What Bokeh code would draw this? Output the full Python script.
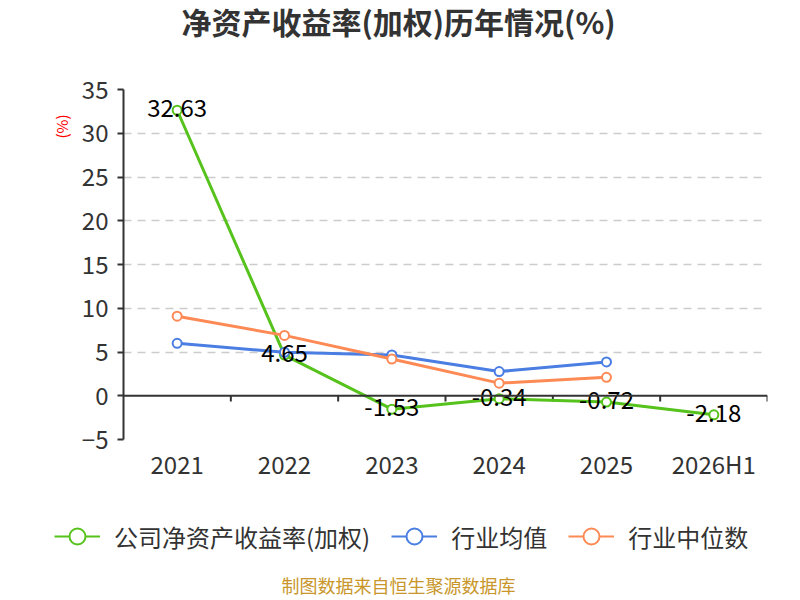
from bokeh.plotting import figure
from bokeh.models import (Legend, LegendItem, FixedTicker, Span, Title, Label,
                          ColumnDataSource, CustomJSTickFormatter)
from bokeh.layouts import column
from bokeh.core.properties import value
from bokeh.embed import file_html
from bokeh.resources import INLINE

years = ["2021", "2022", "2023", "2024", "2025", "2026H1"]
company = [32.63, 4.65, -1.53, -0.34, -0.72, -2.18]
industry_avg = [5.99, 4.97, 4.66, 2.76, 3.86]
industry_median = [9.09, 6.90, 4.20, 1.44, 2.11]
y_ticks = [-5, 0, 5, 10, 15, 20, 25, 30, 35]
series_names = ["公司净资产收益率(加权)", "行业均值", "行业中位数"]

FONT = "Noto Sans CJK SC"
GREEN = "#56c21c"
BLUE = "#4a7ee2"
ORANGE = "#fd8a55"
colors = [GREEN, BLUE, ORANGE]

W = 792
xs = list(range(len(years)))


def blank(height):
    f = figure(width=W, height=height, output_backend="svg", toolbar_location=None,
               x_range=(0, 1), y_range=(0, 1), x_axis_type=None, y_axis_type=None,
               min_border=0)
    f.frame_align = False
    f.outline_line_color = None
    f.grid.visible = False
    return f


# ---- top: title ----
top = blank(46)
top.add_layout(Label(x=398, y=26, x_units="screen", y_units="screen",
                     text="净资产收益率(加权)历年情况(%)", text_align="center",
                     text_baseline="middle", text_font=FONT, text_font_size="30px",
                     text_font_style="bold", text_color="#333333"))

# ---- main chart ----
p = figure(width=W, height=450, output_backend="svg", toolbar_location=None,
           x_range=(-0.5, len(years) - 0.5), y_range=(-5, 35),
           min_border_left=123, min_border_right=25, min_border_top=43,
           min_border_bottom=57)
p.frame_align = False
p.outline_line_color = None

ya = p.yaxis[0]
ya.ticker = FixedTicker(ticks=y_ticks)
ya.axis_line_color = "#333333"
ya.axis_line_width = 2
ya.major_tick_line_color = "#333333"
ya.major_tick_line_width = 2
ya.major_tick_out = 6
ya.major_tick_in = 0
ya.minor_tick_line_color = None
ya.major_label_text_font = FONT
ya.major_label_text_font_size = "24px"
ya.major_label_text_color = "#333333"
ya.major_label_standoff = 9

p.add_layout(Title(text="(%)", align="right", text_font=FONT,
                   text_font_size="15px", text_font_style="normal",
                   text_color="red", offset=25, standoff=14), "left")

xa = p.xaxis[0]
xa.ticker = FixedTicker(ticks=xs)
xa.formatter = CustomJSTickFormatter(args=dict(labels=years),
                                     code="return labels[Math.round(tick)] || '';")
xa.axis_line_color = None
xa.major_tick_line_color = None
xa.minor_tick_line_color = None
xa.major_label_text_font = FONT
xa.major_label_text_font_size = "24px"
xa.major_label_text_color = "#333333"
xa.major_label_standoff = 0

p.xgrid.grid_line_color = None
p.ygrid.ticker = FixedTicker(ticks=[t for t in y_ticks if t != 0])
p.ygrid.grid_line_color = "#cccccc"
p.ygrid.grid_line_width = 1.5
p.ygrid.grid_line_dash = "8 6"

p.add_layout(Span(location=0, dimension="width", line_color="#333333", line_width=2))
bounds = [i + 0.5 for i in xs]
p.segment(x0=bounds, x1=bounds, y0=[0] * len(bounds), y1=[-0.65] * len(bounds),
          line_color="#333333", line_width=2)

for vals, col in zip([company, industry_avg, industry_median], colors):
    x = xs[:len(vals)]
    p.line(x, vals, line_color=col, line_width=3)
    p.scatter(x, vals, size=9, marker="circle", fill_color="white",
              line_color=col, line_width=2)

src = ColumnDataSource(dict(x=xs, y=company, t=[f"{v:.2f}" for v in company]))
p.text(x="x", y="y", text="t", source=src, text_align="center",
       text_baseline="middle", y_offset=-2, text_color="black",
       text_font=value(FONT), text_font_size="24px")

# ---- bottom: legend + footer ----
bot = blank(102)
items = []
for name, col in zip(series_names, colors):
    ll = bot.line(x=[-5, -4], y=[-5, -5], line_color=col, line_width=2)
    ls = bot.scatter(x=[-5], y=[-5], size=16, marker="circle", fill_color="white",
                     line_color=col, line_width=2)
    items.append(LegendItem(label=name, renderers=[ll, ls]))
legend = Legend(items=items, orientation="horizontal", location=(54, 42),
                label_text_font=FONT, label_text_font_size="24px",
                label_text_color="#333333", glyph_width=46, glyph_height=40,
                spacing=21, label_standoff=14, border_line_color=None,
                background_fill_alpha=0, margin=0, padding=0)
bot.add_layout(legend, "center")
bot.add_layout(Label(x=398, y=14, x_units="screen", y_units="screen",
                     text="制图数据来自恒生聚源数据库", text_align="center",
                     text_baseline="middle", text_font=FONT, text_font_size="18px",
                     text_color="#c8962a"))

layout = column(top, p, bot, spacing=0)
open("out.html", "w").write(file_html(layout, INLINE))
